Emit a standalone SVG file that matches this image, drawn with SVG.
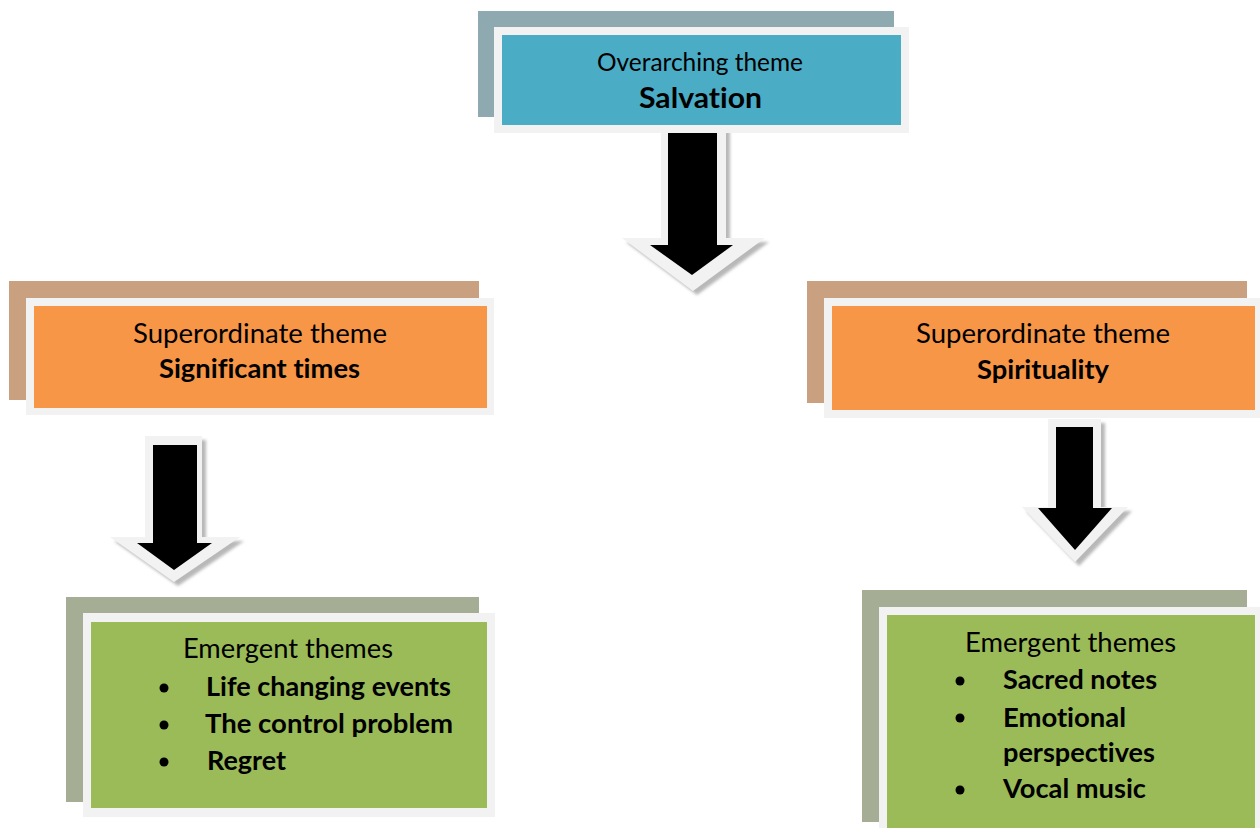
<svg xmlns="http://www.w3.org/2000/svg" width="1260" height="828" viewBox="0 0 1260 828">
  <defs>
    <filter id="soft" x="-20%" y="-20%" width="140%" height="140%">
      <feGaussianBlur stdDeviation="1.5"/>
    </filter>
  </defs>
  <style>
    .frame { fill: #f2f2f2; }
    .back-blue { fill: #8fa9b0; }
    .back-orange { fill: #c9a080; }
    .back-green { fill: #a5ae94; }
    .blue { fill: #4bacc6; }
    .orange { fill: #f79646; }
    .green { fill: #9bbb59; }
    text { font-family: Lato, "Open Sans", "Liberation Sans", sans-serif; fill: #000; font-variant-ligatures: none; font-feature-settings: "liga" 0; }
    .label { font-size: 26px; }
    .title { font-size: 27px; font-weight: bold; }
    .arrow-outline { fill: #f2f2f2; }
    .arrow-shadow { fill: #b8b8b8; filter: url(#soft); }
    .arrow-body { fill: #000; }
  </style>

  <rect width="1260" height="828" fill="#ffffff"/>

  <!-- block arrows between levels -->
  <g id="connectors">
    <g id="arrow-top">
      <polygon class="arrow-shadow" transform="translate(4,4)" points="661,127 726,127 726,238 765,238 693,291 622,238 661,238"/>
      <polygon class="arrow-outline" points="661,127 726,127 726,238 765,238 693,291 622,238 661,238"/>
      <polygon class="arrow-body" points="668,133 717,133 717,245 733,245 692,275 650,245 668,245"/>
    </g>
    <g id="arrow-left">
      <polygon class="arrow-shadow" transform="translate(4,4)" points="145,436 202,436 202,537 240,537 174,582 110,537 145,537"/>
      <polygon class="arrow-outline" points="145,436 202,436 202,537 240,537 174,582 110,537 145,537"/>
      <polygon class="arrow-body" points="153,445 197,445 197,543 212,543 174,570 137,543 153,543"/>
    </g>
    <g id="arrow-right">
      <polygon class="arrow-shadow" transform="translate(4,4)" points="1048,419 1101,419 1101,507 1128,507 1075,562 1022,507 1048,507"/>
      <polygon class="arrow-outline" points="1048,419 1101,419 1101,507 1128,507 1075,562 1022,507 1048,507"/>
      <polygon class="arrow-body" points="1056,427 1093,427 1093,508 1112,508 1075,550 1038,508 1056,508"/>
    </g>
  </g>

  <!-- overarching theme -->
  <g id="node-salvation">
    <rect class="back-blue" x="478" y="11" width="416" height="106"/>
    <rect class="frame" x="494" y="27" width="415" height="106"/>
    <rect class="blue" x="502" y="35" width="399" height="90"/>
    <text class="label" x="597" y="71" textLength="206" lengthAdjust="spacingAndGlyphs" style="font-size:25px">Overarching theme</text>
    <text class="title" x="639" y="108" textLength="123" lengthAdjust="spacingAndGlyphs" style="font-size:28px">Salvation</text>
  </g>

  <!-- superordinate themes -->
  <g id="node-significant-times">
    <rect class="back-orange" x="9" y="281" width="470" height="119"/>
    <rect class="frame" x="26" y="298" width="468" height="117"/>
    <rect class="orange" x="34" y="306" width="453" height="102"/>
    <text class="label" x="133" y="343" textLength="254" lengthAdjust="spacingAndGlyphs">Superordinate theme</text>
    <text class="title" x="159" y="378" textLength="201" lengthAdjust="spacingAndGlyphs">Significant times</text>
  </g>

  <g id="node-spirituality">
    <rect class="back-orange" x="807" y="281" width="440" height="122"/>
    <rect class="frame" x="824" y="298" width="436" height="120"/>
    <rect class="orange" x="832" y="306" width="423" height="104"/>
    <text class="label" x="916" y="343" textLength="254" lengthAdjust="spacingAndGlyphs">Superordinate theme</text>
    <text class="title" x="977" y="379" textLength="132" lengthAdjust="spacingAndGlyphs">Spirituality</text>
  </g>

  <!-- emergent themes -->
  <g id="node-emergent-left">
    <rect class="back-green" x="66" y="597" width="413" height="205"/>
    <rect class="frame" x="83" y="613" width="412" height="204"/>
    <rect class="green" x="91" y="622" width="396" height="186"/>
    <text class="label" x="183" y="658" textLength="210" lengthAdjust="spacingAndGlyphs">Emergent themes</text>
    <circle cx="164" cy="688" r="4.5"/>
    <circle cx="164" cy="725" r="4.5"/>
    <circle cx="164" cy="762" r="4.5"/>
    <text class="title" x="206" y="696" textLength="245" lengthAdjust="spacingAndGlyphs">Life changing events</text>
    <text class="title" x="205" y="733" textLength="248" lengthAdjust="spacingAndGlyphs">The control problem</text>
    <text class="title" x="207" y="770" textLength="79" lengthAdjust="spacingAndGlyphs">Regret</text>
  </g>

  <g id="node-emergent-right">
    <rect class="back-green" x="862" y="590" width="385" height="232"/>
    <rect class="frame" x="879" y="607" width="381" height="221"/>
    <rect class="green" x="887" y="615" width="368" height="213"/>
    <text class="label" x="965" y="652" textLength="211" lengthAdjust="spacingAndGlyphs">Emergent themes</text>
    <circle cx="960" cy="681" r="4.5"/>
    <circle cx="960" cy="718" r="4.5"/>
    <circle cx="960" cy="790" r="4.5"/>
    <text class="title" x="1003" y="689" textLength="154" lengthAdjust="spacingAndGlyphs">Sacred notes</text>
    <text class="title" x="1003" y="727" textLength="123" lengthAdjust="spacingAndGlyphs">Emotional</text>
    <text class="title" x="1003" y="762" textLength="152" lengthAdjust="spacingAndGlyphs">perspectives</text>
    <text class="title" x="1003" y="798" textLength="143" lengthAdjust="spacingAndGlyphs">Vocal music</text>
  </g>
</svg>
